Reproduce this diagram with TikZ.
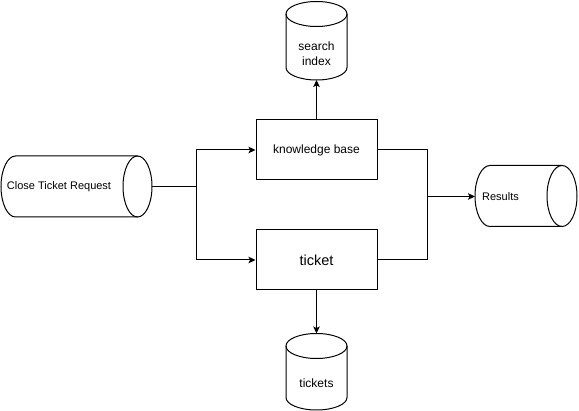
\documentclass[tikz,border=0pt]{standalone}
\usepackage{fontspec}
\setmainfont{Liberation Sans}
\usetikzlibrary{arrows.meta}
\begin{document}
\begin{tikzpicture}[x=1pt,y=-1pt,line width=1pt,
  arr/.style={-{Stealth[length=7pt,width=6.5pt,inset=1.5pt]}},
  procbox/.style={draw,minimum width=121pt,minimum height=60pt,inner sep=0pt},
  lbl/.style={inner sep=0pt,align=center},
  f11/.style={font=\fontsize{11}{13}\selectfont},
  f12/.style={font=\fontsize{12}{15}\selectfont},
  f14/.style={font=\fontsize{14.5}{17}\selectfont}]
\useasboundingbox (0,0) rectangle (579,411);
% Close Ticket Request (horizontal cylinder)
\draw (137.5,156) -- (15.5,156) arc[start angle=90,end angle=270,x radius=14.5pt,y radius=30.5pt] -- (137.5,217);
\draw (137.5,186.5) ellipse [x radius=14.5pt,y radius=30.5pt];
\node[lbl,f11] (crq) at (59,186.5) {Close Ticket Request};
\coordinate (crqR) at (152,186.5);
% Results (horizontal cylinder)
\draw (562,165.5) -- (490,165.5) arc[start angle=90,end angle=270,x radius=15pt,y radius=30.5pt] -- (562,226.5);
\draw (562,196) ellipse [x radius=15pt,y radius=30.5pt];
\node[lbl,f11] (res) at (500.5,196.5) {Results};
\coordinate (resL) at (475,196.5);
% search index (vertical cylinder)
\draw (286,14) -- (286,67.5) arc[start angle=180,end angle=360,x radius=30.5pt,y radius=12.5pt] -- (347,14);
\draw (316.5,14) ellipse [x radius=30.5pt,y radius=12.5pt];
\node[lbl,f12] (si) at (316.5,54) {search\\index};
\coordinate (siB) at (316.5,80);
% tickets (vertical cylinder)
\draw (286,346) -- (286,397.5) arc[start angle=180,end angle=360,x radius=30.5pt,y radius=12.5pt] -- (347,346);
\draw (316.5,346) ellipse [x radius=30.5pt,y radius=12.5pt];
\node[lbl,f12] (tks) at (316.5,383) {tickets};
\coordinate (tksT) at (316.5,333.5);
% process boxes
\node[procbox,f12] (kb) at (316.5,150) {knowledge base};
\node[procbox,f14] (tk) at (316.5,260) {ticket};
% connectors
\coordinate (split) at (196,186.5);
\coordinate (merge) at (427,196.5);
\draw (crqR) -- (split);
\draw[arr] (split) |- (kb.west);
\draw[arr] (split) |- (tk.west);
\draw (kb.east) -| (merge);
\draw (tk.east) -| (merge);
\draw[arr] (merge) -- (resL);
\draw[arr] (kb.north) -- (siB);
\draw[arr] (tk.south) -- (tksT);
\end{tikzpicture}
\end{document}
